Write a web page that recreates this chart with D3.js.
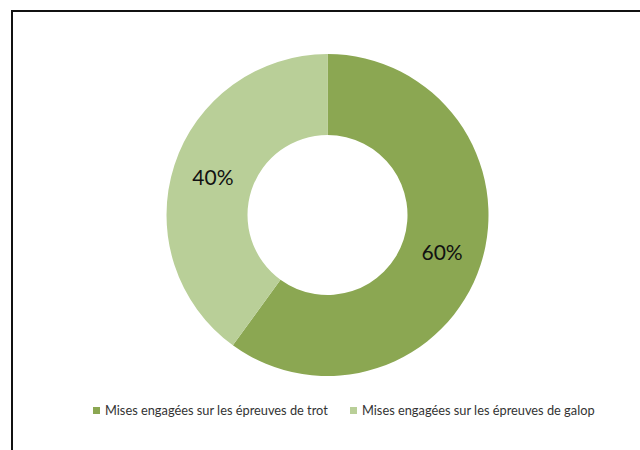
<!DOCTYPE html>
<html>
<head>
<meta charset="utf-8">
<script src="https://cdn.jsdelivr.net/npm/d3@7"></script>
<style>
  html, body { margin: 0; padding: 0; background: #fff; }
  svg { display: block; }
</style>
</head>
<body>
<svg id="chart" width="640" height="450"></svg>
<script>
// Share of stakes by race type
const categories = ["Mises engagées sur les épreuves de trot", "Mises engagées sur les épreuves de galop"];
const values = [60, 40];
const valueLabels = ["60%", "40%"];
const colors = ["#8ba752", "#b9cf98"];

const svg = d3.select("#chart");
const font = "Lato, 'Open Sans', sans-serif";

// Chart frame (left and top edges visible)
svg.append("path")
  .attr("d", "M12,450 L12,11 L640,11")
  .attr("fill", "none")
  .attr("stroke", "#111")
  .attr("stroke-width", 2);

const cx = 327.5, cy = 215, outerR = 161, innerR = 80;

const pie = d3.pie().sort(null).value(d => d)(values);
const arc = d3.arc().innerRadius(innerR).outerRadius(outerR);
const labelArc = d3.arc().innerRadius((innerR + outerR) / 2).outerRadius((innerR + outerR) / 2);

const g = svg.append("g").attr("transform", `translate(${cx},${cy})`);

g.selectAll("path.slice")
  .data(pie)
  .join("path")
  .attr("class", "slice")
  .attr("d", arc)
  .attr("fill", (d, i) => colors[i]);

g.selectAll("text.pct")
  .data(pie)
  .join("text")
  .attr("class", "pct")
  .attr("transform", d => `translate(${labelArc.centroid(d)})`)
  .attr("text-anchor", "middle")
  .attr("dy", "0.35em")
  .attr("font-family", font)
  .attr("font-size", 21)
  .attr("fill", "#111")
  .text((d, i) => valueLabels[i]);

// Legend
const legendX = [93, 350];
const legendY = 411;
const lg = svg.append("g");
categories.forEach((c, i) => {
  lg.append("rect")
    .attr("x", legendX[i])
    .attr("y", legendY - 4)
    .attr("width", 7)
    .attr("height", 7)
    .attr("fill", colors[i]);
  lg.append("text")
    .attr("x", legendX[i] + 12)
    .attr("y", legendY)
    .attr("dy", "0.35em")
    .attr("font-family", font)
    .attr("font-size", 12.8)
    .attr("fill", "#333")
    .text(c);
});
</script>
</body>
</html>
